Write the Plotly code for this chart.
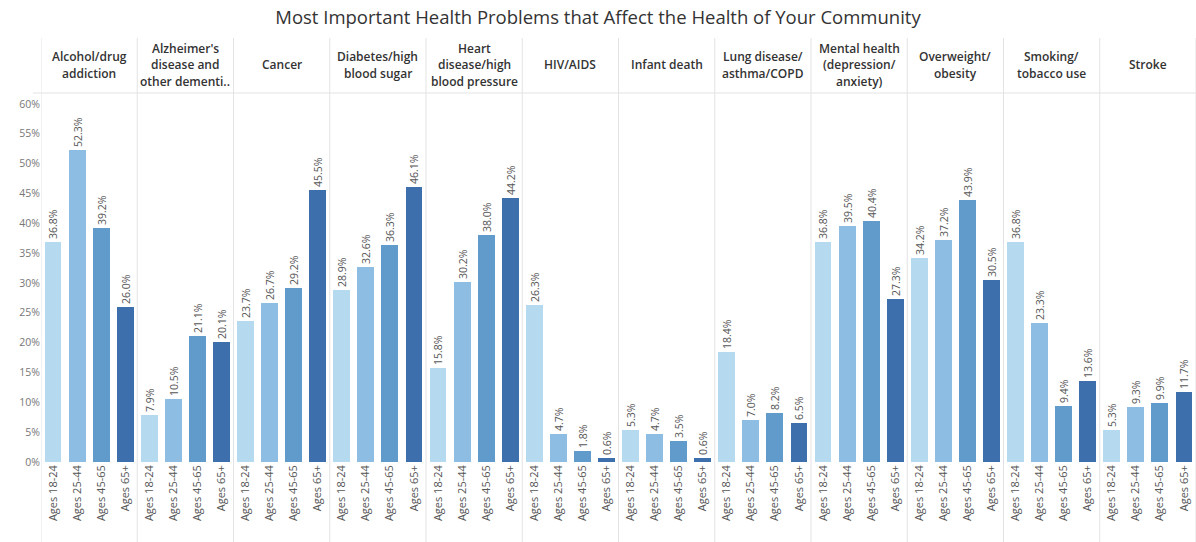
import plotly.graph_objects as go

# Health problems (facet columns) and their header lines
problems = [
    "Alcohol/drug addiction", "Alzheimer's disease and other dementias", "Cancer",
    "Diabetes/high blood sugar", "Heart disease/high blood pressure", "HIV/AIDS",
    "Infant death", "Lung disease/asthma/COPD", "Mental health (depression/anxiety)",
    "Overweight/obesity", "Smoking/tobacco use", "Stroke",
]
header_lines = [
    ["Alcohol/drug", "addiction"],
    ["Alzheimer's", "disease and", "other dementi.."],
    ["Cancer"],
    ["Diabetes/high", "blood sugar"],
    ["Heart", "disease/high", "blood pressure"],
    ["HIV/AIDS"],
    ["Infant death"],
    ["Lung disease/", "asthma/COPD"],
    ["Mental health", "(depression/", "anxiety)"],
    ["Overweight/", "obesity"],
    ["Smoking/", "tobacco use"],
    ["Stroke"],
]

age_groups = ["Ages 18-24", "Ages 25-44", "Ages 45-65", "Ages 65+"]
age_colors = ["#b5d9ef", "#8dbde2", "#609bcc", "#3c6fab"]

# Percent of respondents per age group, in the order of `problems`
ages_18_24 = [36.8, 7.9, 23.7, 28.9, 15.8, 26.3, 5.3, 18.4, 36.8, 34.2, 36.8, 5.3]
ages_25_44 = [52.3, 10.5, 26.7, 32.6, 30.2, 4.7, 4.7, 7.0, 39.5, 37.2, 23.3, 9.3]
ages_45_65 = [39.2, 21.1, 29.2, 36.3, 38.0, 1.8, 3.5, 8.2, 40.4, 43.9, 9.4, 9.9]
ages_65_up = [26.0, 20.1, 45.5, 46.1, 44.2, 0.6, 0.6, 6.5, 27.3, 30.5, 13.6, 11.7]
series = [ages_18_24, ages_25_44, ages_45_65, ages_65_up]

y_ticks = list(range(0, 61, 5))

title_text = "Most Important Health Problems that Affect the Health of Your Community"

FONT = "Open Sans, sans-serif"

# Pixel geometry of the plotting area
W, H = 1196, 542
PLOT_LEFT, PLOT_RIGHT = 41, 1196
PLOT_TOP, PLOT_BOTTOM = 95, 462
plot_h = PLOT_BOTTOM - PLOT_TOP
plot_w = PLOT_RIGHT - PLOT_LEFT


def py(pixel_y):
    """Convert a pixel row to paper y coordinate."""
    return (PLOT_BOTTOM - pixel_y) / plot_h


def px(pixel_x):
    """Convert a pixel column to paper x coordinate."""
    return (pixel_x - PLOT_LEFT) / plot_w


n_groups = len(age_groups)
fig = go.Figure()

for g, (name, values, color) in enumerate(zip(age_groups, series, age_colors)):
    xs = [i * n_groups + g for i in range(len(problems))]
    fig.add_trace(go.Bar(
        x=xs, y=values, name=name,
        marker=dict(color=color, line=dict(width=0)),
        width=0.7,
        text=[f"{v:.1f}%" for v in values],
        textposition="outside",
        textangle=-90,
        constraintext="none",
        cliponaxis=False,
        textfont=dict(family=FONT, size=10.5, color="#555555"),
        hoverinfo="skip",
        showlegend=False,
    ))

tick_vals = [i * n_groups + g for i in range(len(problems)) for g in range(n_groups)]
tick_text = [age_groups[g] for i in range(len(problems)) for g in range(n_groups)]

shapes = []
# vertical panel separators, through header and axis label band
for i in range(len(problems) + 1):
    xv = i * n_groups - 0.5
    shapes.append(dict(
        type="line", xref="x", yref="paper",
        x0=xv, x1=xv, y0=py(H + 2), y1=py(38),
        line=dict(color="#e3e3e3", width=1),
    ))
# horizontal line under the header row
shapes.append(dict(
    type="line", xref="paper", yref="paper",
    x0=px(33), x1=px(W + 2), y0=py(93), y1=py(93),
    line=dict(color="#e3e3e3", width=1),
))

annotations = []
LINE_GAP = 16.5
HEADER_CENTER = 65
for i, lines in enumerate(header_lines):
    n = len(lines)
    for j, line in enumerate(lines):
        yy = HEADER_CENTER + (j - (n - 1) / 2) * LINE_GAP
        annotations.append(dict(
            x=i * n_groups + 1.5, xref="x",
            y=py(yy), yref="paper",
            text=line, showarrow=False,
            xanchor="center", yanchor="middle",
            font=dict(family=FONT, size=12, color="#333333", weight=600),
        ))

fig.update_layout(
    width=W, height=H,
    margin=dict(l=PLOT_LEFT, r=W - PLOT_RIGHT, t=PLOT_TOP, b=H - PLOT_BOTTOM, pad=0),
    paper_bgcolor="white", plot_bgcolor="white",
    title=dict(
        text=title_text, x=0.5, xanchor="center", y=1 - 18 / H, yanchor="middle",
        font=dict(family=FONT, size=18.5, color="#333333"),
    ),
    bargap=0.0,
    shapes=shapes,
    annotations=annotations,
    xaxis=dict(
        range=[-0.5, len(problems) * n_groups - 0.5],
        tickmode="array", tickvals=tick_vals, ticktext=tick_text,
        tickangle=-90, showgrid=False, zeroline=False, showline=False,
        ticks="", ticklen=0,
        tickfont=dict(family=FONT, size=11, color="#555555"),
        fixedrange=True,
    ),
    yaxis=dict(
        range=[0, 61.5],
        tickmode="array", tickvals=y_ticks,
        ticktext=[f"{v}%" for v in y_ticks],
        showgrid=False, zeroline=False, showline=False,
        ticks="", ticklen=0,
        tickfont=dict(family=FONT, size=10.5, color="#777777"),
        fixedrange=True,
    ),
)

fig.write_html("out.html", config={"displayModeBar": False})
